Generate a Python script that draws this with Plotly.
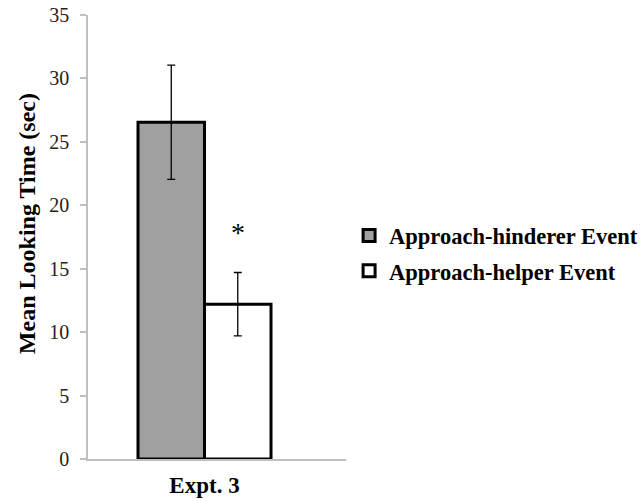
import plotly.graph_objects as go

categories = ["Expt. 3"]
series_names = ["Approach-hinderer Event", "Approach-helper Event"]
means = [[26.55], [12.2]]
errors = [[4.5], [2.5]]
colors = ["#a0a0a0", "#ffffff"]
y_ticks = [0, 5, 10, 15, 20, 25, 30, 35]
sig_label = "*"
y_title = "Mean Looking Time (sec)"

FONT = "Liberation Serif"

fig = go.Figure()
for i, name in enumerate(series_names):
    fig.add_trace(go.Bar(
        x=categories, y=means[i], name=name,
        marker=dict(color=colors[i], line=dict(color="black", width=3)),
        error_y=dict(type="data", array=errors[i], color="black", thickness=1.3, width=4),
        legendgroup=name,
    ))

fig.add_annotation(
    x=categories[0], y=means[1][0] + errors[1][0] + 3.15, text=sig_label,
    showarrow=False, xshift=33, font=dict(family=FONT, size=28, color="black"),
)
fig.add_annotation(
    xref="paper", yref="paper", x=-0.2364, y=0.529, text="<b>%s</b>" % y_title,
    textangle=-90, showarrow=False, xanchor="center", yanchor="middle",
    font=dict(family=FONT, size=24, color="black"),
)

fig.update_layout(
    width=641, height=501,
    paper_bgcolor="white", plot_bgcolor="white",
    margin=dict(l=88, r=295, t=15, b=42, autoexpand=False),
    barmode="group", bargap=0.4845, bargroupgap=0,
    font=dict(family=FONT, color="black"),
    legend=dict(
        x=1.012, y=0.463, xanchor="left", yanchor="middle",
        font=dict(family=FONT, size=22.5, color="black", weight="bold"),
        itemwidth=30, traceorder="grouped", tracegroupgap=3,
        bgcolor="rgba(0,0,0,0)",
    ),
    showlegend=True,
)
fig.update_xaxes(
    type="category", range=[-0.4516, 0.5484], automargin=False,
    showline=True, linecolor="#bfbfbf", linewidth=1.5,
    ticks="", showgrid=False, zeroline=False, ticklabelstandoff=5,
    tickfont=dict(family=FONT, size=23, color="black", weight="bold"),
)
fig.update_yaxes(
    range=[0, 35], tickvals=y_ticks, automargin=False,
    showline=True, linecolor="#bfbfbf", linewidth=1.5,
    ticks="outside", ticklen=6, tickcolor="#bfbfbf", tickwidth=1.5,
    showgrid=False, zeroline=False, ticklabelstandoff=7,
    tickfont=dict(family=FONT, size=20, color="#222222"),
)

fig.write_html(
    "out.html",
    config={"displayModeBar": False},
    post_script="document.body.style.margin='0';document.body.style.overflow='hidden';",
)
